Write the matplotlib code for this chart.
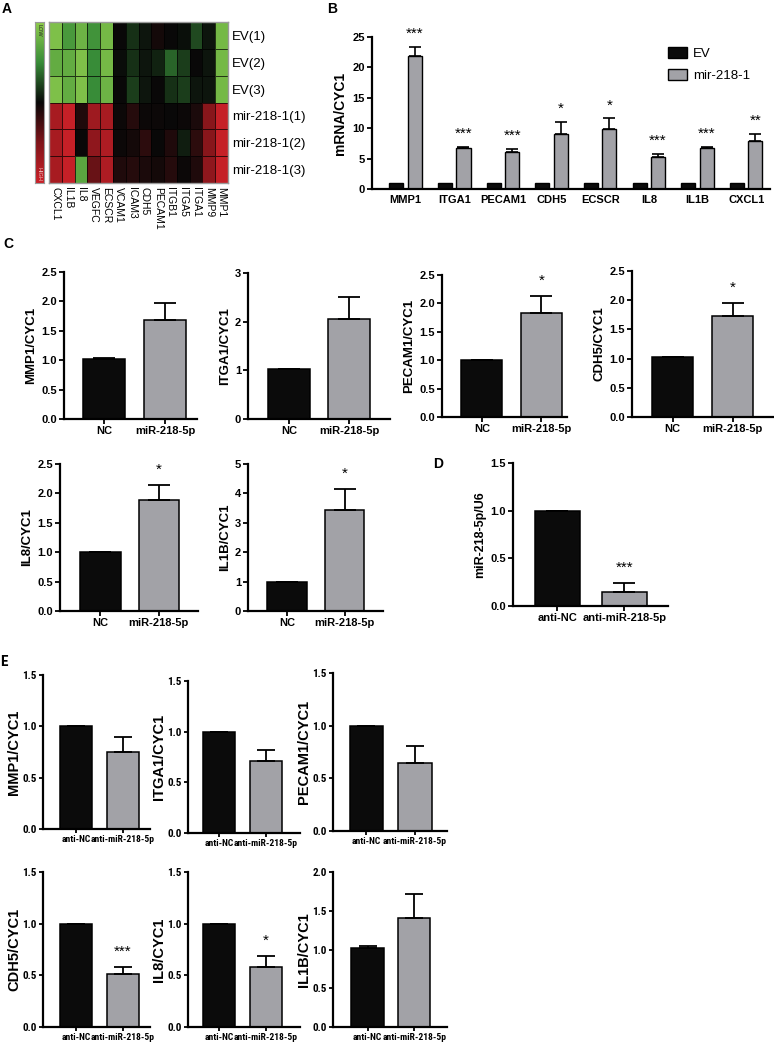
import matplotlib
matplotlib.use('Agg')
import matplotlib.pyplot as plt
import numpy as np
from matplotlib.colors import LinearSegmentedColormap
from matplotlib import font_manager
from matplotlib.font_manager import FontProperties

# ---------------- data ----------------
heat_genes = ['CXCL1', 'IL1B', 'IL8', 'VEGFC', 'ECSCR', 'VCAM1', 'ICAM3', 'CDH5',
              'PECAM1', 'ITGB1', 'ITGA5', 'ITGA1', 'MMP9', 'MMP1']
heat_samples = ['EV(1)', 'EV(2)', 'EV(3)', 'mir-218-1(1)', 'mir-218-1(2)', 'mir-218-1(3)']
heat_ev1 = [-0.9, -0.6, -0.8, -0.55, -0.85, 0.0, -0.15, -0.05, 0.05, 0.0, -0.03, -0.25, -0.05, -0.85]
heat_ev2 = [-0.75, -0.75, -0.9, -0.5, -0.85, -0.02, -0.15, -0.05, -0.1, -0.35, -0.2, 0.0, -0.05, -0.85]
heat_ev3 = [-0.9, -0.75, -0.9, -0.5, -0.8, 0.0, -0.2, -0.05, 0.0, -0.15, -0.2, -0.05, -0.05, -0.85]
heat_mir1 = [0.75, 0.95, 0.1, 0.7, 0.75, 0.02, 0.12, 0.02, 0.02, 0.0, 0.02, 0.08, 0.55, 0.95]
heat_mir2 = [0.75, 0.95, 0.0, 0.6, 0.8, 0.02, 0.05, 0.15, 0.0, 0.1, -0.08, 0.15, 0.55, 0.95]
heat_mir3 = [0.75, 0.95, -0.7, 0.4, 0.8, 0.1, 0.12, 0.08, 0.05, 0.12, 0.02, 0.1, 0.6, 0.95]

b_genes = ['MMP1', 'ITGA1', 'PECAM1', 'CDH5', 'ECSCR', 'IL8', 'IL1B', 'CXCL1']
b_ev = [1, 1, 1, 1, 1, 1, 1, 1]
b_mir = [21.9, 6.8, 6.1, 9.0, 9.9, 5.2, 6.75, 7.9]
b_mir_err = [1.5, 0.15, 0.45, 2.0, 1.7, 0.5, 0.15, 1.1]
b_stars = ['***', '***', '***', '*', '*', '***', '***', '**']

c_cats = ['NC', 'miR-218-5p']
c_genes = ['MMP1', 'ITGA1', 'PECAM1', 'CDH5', 'IL8', 'IL1B']
c_nc = [1.02, 1.02, 1.0, 1.02, 1.0, 1.0]
c_nc_err = [0.01, 0.01, 0.0, 0.01, 0.0, 0.0]
c_mir = [1.68, 2.05, 1.83, 1.73, 1.88, 3.42]
c_mir_err = [0.30, 0.45, 0.30, 0.23, 0.27, 0.74]
c_stars = ['', '', '*', '*', '*', '*']
c_ymax = [2.5, 3, 2.5, 2.5, 2.5, 5]
c_ystep = [0.5, 1, 0.5, 0.5, 0.5, 1]

d_cats = ['anti-NC', 'anti-miR-218-5p']
d_vals = [1.0, 0.15]
d_err = [0.0, 0.09]
d_star = '***'

e_cats = ['anti-NC', 'anti-miR-218-5p']
e_genes = ['MMP1', 'ITGA1', 'PECAM1', 'CDH5', 'IL8', 'IL1B']
e_nc = [1.0, 1.0, 1.0, 1.0, 1.0, 1.02]
e_nc_err = [0.0, 0.0, 0.0, 0.0, 0.0, 0.03]
e_anti = [0.75, 0.71, 0.65, 0.51, 0.58, 1.41]
e_anti_err = [0.15, 0.11, 0.16, 0.07, 0.11, 0.31]
e_stars = ['', '', '', '***', '*', '']
e_ymax = [1.5, 1.5, 1.5, 1.5, 1.5, 2.0]

# ---------------- style ----------------
W, H = 774, 1048
fig = plt.figure(figsize=(W / 100, H / 100), dpi=100)
SANS = 'Liberation Sans'
BLACK = '#0b0b0b'
GREY = '#a2a2a7'
SPINE_LW = 1.6


def find_narrow_bold():
    prefs = ['liberation sans narrow', 'roboto condensed', 'open sans condensed',
             'dejavu sans condensed', 'noto sans condensed', 'condensed', 'narrow']
    best = None
    for f in font_manager.fontManager.ttflist:
        key = (f.name + ' ' + f.fname).lower()
        isbold = (isinstance(f.weight, int) and f.weight >= 600) or f.weight in ('bold', 'semibold', 'demibold', 'heavy') \
            or 'bold' in f.fname.lower()
        if not isbold or 'italic' in f.fname.lower() or 'oblique' in f.fname.lower():
            continue
        cond = ('narrow' in key or 'condensed' in key or f.stretch in ('condensed', 'semi-condensed'))
        if not cond:
            continue
        rank = len(prefs)
        for i, p in enumerate(prefs):
            if p in key.replace('-', ' ').replace('_', ' ') or p.replace(' ', '') in key:
                rank = i
                break
        if best is None or rank < best[0]:
            best = (rank, f.fname)
    return best[1] if best else None


NARROW_FILE = find_narrow_bold()


def narrow_fp(size):
    if NARROW_FILE:
        return FontProperties(fname=NARROW_FILE, size=size)
    return FontProperties(family=SANS, weight='bold', size=size * 0.8)


def sans_fp(size, bold=True):
    return FontProperties(family=SANS, weight='bold' if bold else 'normal', size=size)


def rect(l, t, r, b):
    return [l / W, 1 - b / H, (r - l) / W, (b - t) / H]


def star(ax, x, ytop, s, size=11, gap_px=20):
    fs_px = size * 100 / 72
    ax.annotate(s, xy=(x, ytop), xytext=(0, (gap_px - 0.58 * fs_px) * 72 / 100),
                textcoords='offset points', ha='center', va='baseline',
                fontsize=size, fontfamily=SANS)


def style_axes(ax, ticklen=3.5):
    for s in ['top', 'right']:
        ax.spines[s].set_visible(False)
    for s in ['left', 'bottom']:
        ax.spines[s].set_linewidth(SPINE_LW)
    ax.tick_params(axis='both', length=ticklen, width=1.3, pad=1.5)


def pair_panel(box, xlim, ymax, ystep, fmt, vals, errs, cats, ylabel, s,
               tick_fp, ylabel_fp, width, capsize, xtick_fp=None, labelpad=3, ticklen=3.5):
    ax = fig.add_axes(rect(*box))
    x = np.arange(2)
    ax.bar(x, vals, width=width, color=[BLACK, GREY], edgecolor='black', linewidth=1.1, zorder=2)
    ax.errorbar(x, vals, yerr=[np.zeros(2), errs], fmt='none', ecolor='black',
                elinewidth=1.3, capsize=capsize, capthick=1.3, zorder=3)
    ax.set_xlim(*xlim)
    ax.set_ylim(0, ymax)
    style_axes(ax, ticklen)
    ticks = np.arange(0, ymax + 1e-9, ystep)
    ax.set_yticks(ticks, [fmt.format(t) for t in ticks], fontproperties=tick_fp)
    ax.set_xticks(x, cats, fontproperties=xtick_fp or tick_fp)
    ax.set_ylabel(ylabel, fontproperties=ylabel_fp, labelpad=labelpad)
    if s:
        star(ax, 1, vals[1] + errs[1], s)
    return ax


# ---------------- panel A ----------------
cmap = LinearSegmentedColormap.from_list(
    'gkr', [(0.0, (0.56, 0.80, 0.30)), (0.25, (0.22, 0.55, 0.22)), (0.5, (0.03, 0.03, 0.03)),
            (0.75, (0.50, 0.08, 0.10)), (1.0, (0.80, 0.13, 0.16))])
heat = np.array([heat_ev1, heat_ev2, heat_ev3, heat_mir1, heat_mir2, heat_mir3])
axh = fig.add_axes(rect(49, 22, 228, 183))
axh.pcolormesh(heat, cmap=cmap, vmin=-1, vmax=1, edgecolors=(0, 0, 0, 0.7), linewidth=0.6)
axh.set_xlim(0, len(heat_genes))
axh.set_ylim(len(heat_samples), 0)
axh.yaxis.tick_right()
axh.set_yticks(np.arange(len(heat_samples)) + 0.5, heat_samples, fontfamily=SANS, fontsize=9.5)
axh.set_xticks(np.arange(len(heat_genes)) + 0.5, heat_genes, rotation=270, fontfamily=SANS, fontsize=7.5)
axh.tick_params(length=0, pad=3)
for sp in axh.spines.values():
    sp.set_color('#9a9a9a')
    sp.set_linewidth(1.0)

axc = fig.add_axes(rect(35, 22, 44, 183))
axc.imshow(np.linspace(-1, 1, 256).reshape(-1, 1), cmap=cmap, aspect='auto', vmin=-1, vmax=1)
axc.set_xticks([])
axc.set_yticks([])
for sp in axc.spines.values():
    sp.set_color('#9a9a9a')
    sp.set_linewidth(0.8)
axc.text(0.5, 0.985, 'LOW', transform=axc.transAxes, rotation=270, ha='center', va='top',
         fontsize=4, color='#222222', fontfamily=SANS)
axc.text(0.5, 0.015, 'HIGH', transform=axc.transAxes, rotation=270, ha='center', va='bottom',
         fontsize=4, color='#f0c0c0', fontfamily=SANS)

# ---------------- panel B ----------------
axb = fig.add_axes(rect(372, 37, 770, 189))
xg = np.arange(len(b_genes))
axb.bar(xg - 0.19, b_ev, 0.29, color=BLACK, edgecolor='black', linewidth=1.0, label='EV', zorder=2)
axb.bar(xg + 0.19, b_mir, 0.29, color=GREY, edgecolor='black', linewidth=1.0, label='mir-218-1', zorder=2)
axb.errorbar(xg + 0.19, b_mir, yerr=[np.zeros(len(xg)), b_mir_err], fmt='none', ecolor='black',
             elinewidth=1.2, capsize=4, capthick=1.2, zorder=3)
axb.set_xlim(-0.69, 7.49)
axb.set_ylim(0, 25)
style_axes(axb)
axb.set_yticks(np.arange(0, 26, 5), [str(v) for v in range(0, 26, 5)], fontproperties=sans_fp(8))
axb.set_xticks(xg, b_genes, fontproperties=sans_fp(8))
axb.tick_params(axis='x', length=0, pad=4)
axb.set_ylabel('mRNA/CYC1', fontproperties=sans_fp(10), labelpad=4)
for i in range(len(b_genes)):
    star(axb, xg[i] + 0.19, b_mir[i] + b_mir_err[i], b_stars[i], gap_px=18)
axb.legend(loc='upper left', bbox_to_anchor=(668 / W, 1 - 47 / H), bbox_transform=fig.transFigure,
           frameon=False, prop={'family': SANS, 'size': 9.5}, handlelength=1.45, handleheight=0.9,
           labelspacing=0.7, handletextpad=0.45, borderaxespad=0, borderpad=0)

# ---------------- panel C ----------------
c_boxes = [(64, 272, 197, 419), (248, 273, 390, 419), (442, 275, 567, 417), (632, 271, 773, 417),
           (60, 464, 198, 611), (248, 464, 383, 611)]
c_xlims = [(-0.656, 1.525), (-0.68, 1.68), (-0.67, 1.43), (-0.675, 1.675), (-0.69, 1.67), (-0.68, 1.67)]
for i in range(6):
    fmt = '{:.1f}' if c_ystep[i] < 1 else '{:.0f}'
    pair_panel(c_boxes[i], c_xlims[i], c_ymax[i], c_ystep[i], fmt, [c_nc[i], c_mir[i]],
               [c_nc_err[i], c_mir_err[i]], c_cats, c_genes[i] + '/CYC1', c_stars[i],
               sans_fp(8), sans_fp(9.5), 0.69, 8)

# ---------------- panel D ----------------
pair_panel((513, 463, 668, 606), (-0.66, 1.65), 1.5, 0.5, '{:.1f}', d_vals, d_err, d_cats,
           'miR-218-5p/U6', d_star, sans_fp(8), sans_fp(9), 0.67, 8)

# ---------------- panel E ----------------
e_boxes = [(43, 675, 150, 829), (188, 681, 300, 833), (333, 673, 447, 831),
           (43, 872, 150, 1027), (188, 872, 300, 1027), (333, 872, 447, 1027)]
e_xlims = [(-0.71, 1.59), (-0.67, 1.74), (-0.69, 1.66), (-0.71, 1.59), (-0.67, 1.74), (-0.74, 1.7)]
for i in range(6):
    pair_panel(e_boxes[i], e_xlims[i], e_ymax[i], 0.5, '{:.1f}', [e_nc[i], e_anti[i]],
               [e_nc_err[i], e_anti_err[i]], e_cats, e_genes[i] + '/CYC1', e_stars[i],
               narrow_fp(8), sans_fp(10.5), 0.69, 6.5, xtick_fp=narrow_fp(6.8), labelpad=1, ticklen=3)

# ---------------- panel letters ----------------
for lab, (px, py) in {'A': (2, 2), 'B': (327, 2), 'C': (3, 237), 'D': (433, 457)}.items():
    fig.text(px / W, 1 - py / H, lab, ha='left', va='top', fontproperties=sans_fp(10))
fig.text(0, 1 - 655 / H, 'E', ha='left', va='top', fontproperties=narrow_fp(11))

fig.savefig('out.png', dpi=100)
